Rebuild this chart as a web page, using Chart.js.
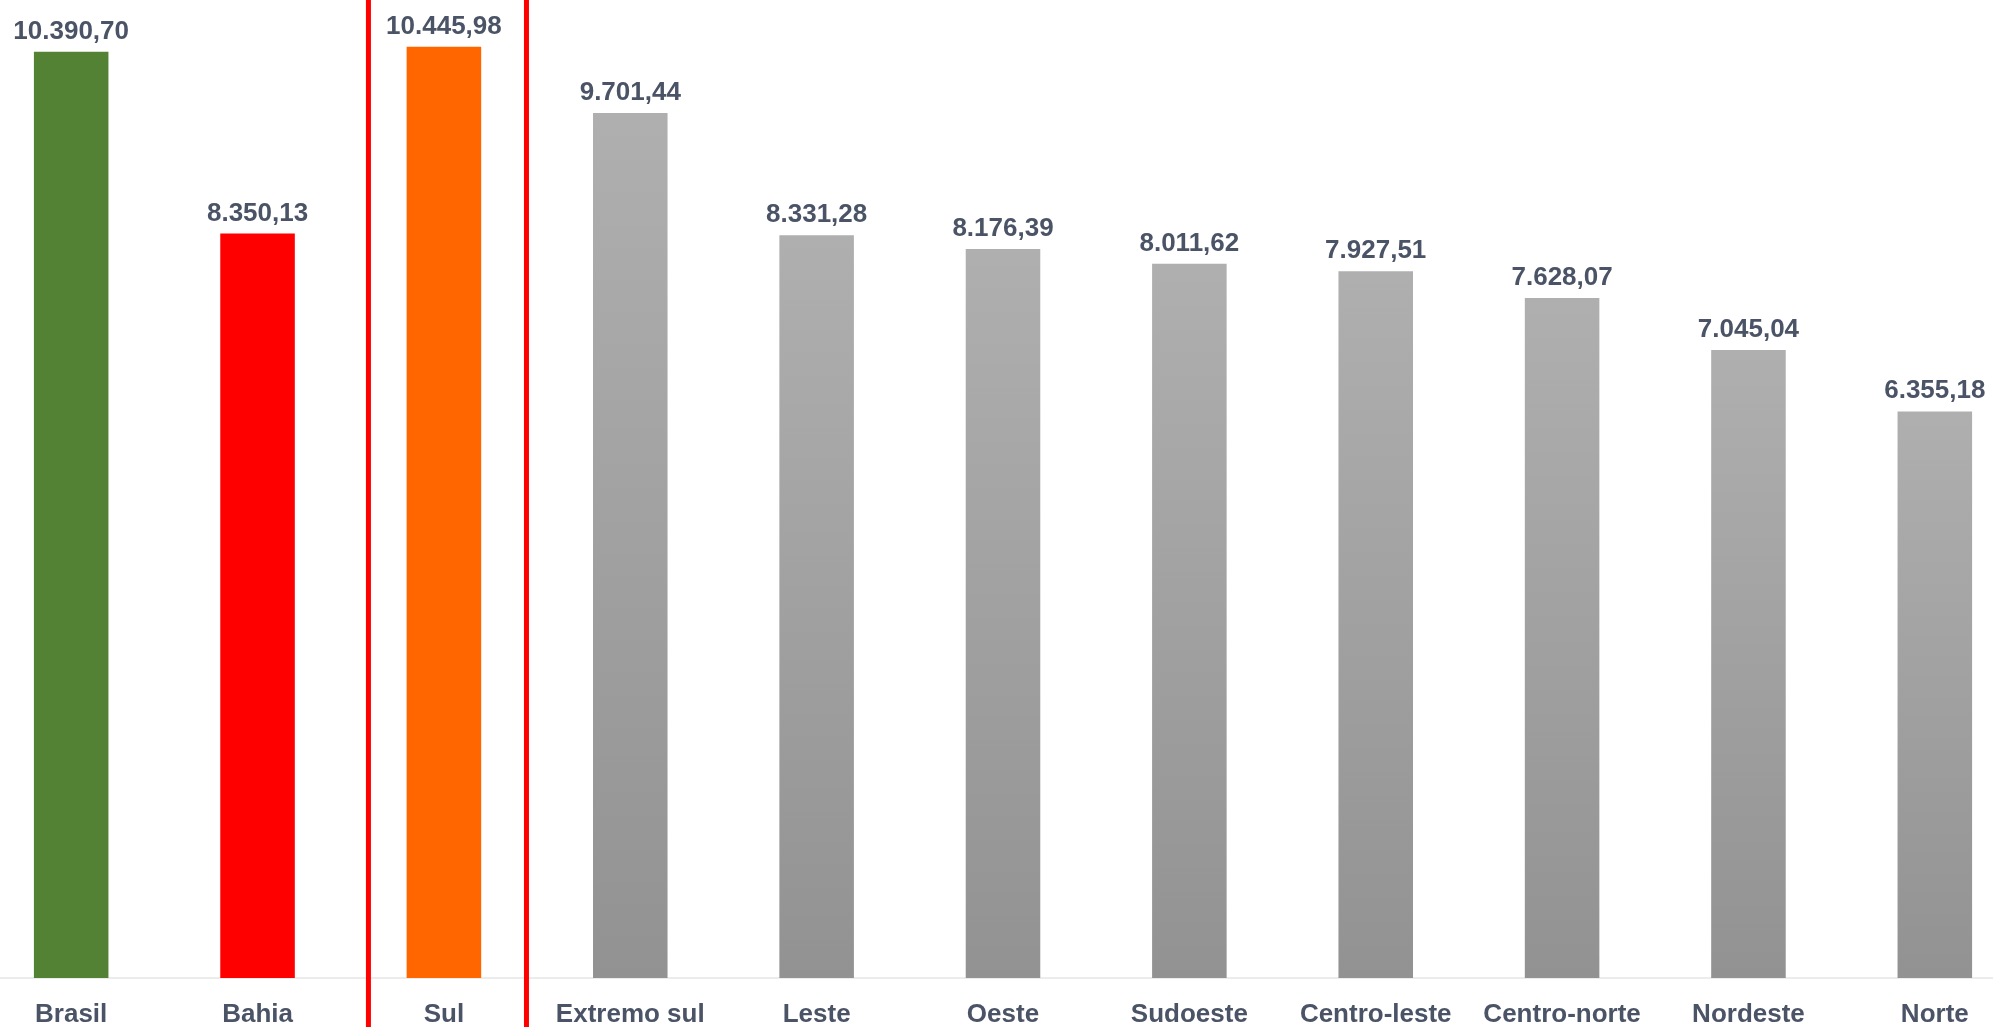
<!DOCTYPE html>
<html lang="pt-BR">
<head>
<meta charset="utf-8">
<title>Regiões</title>
<script src="https://cdn.jsdelivr.net/npm/chart.js@4/dist/chart.umd.min.js"></script>
<style>
  html, body { margin: 0; padding: 0; background: #fff; overflow: hidden; }
  body { width: 1993px; height: 1027px; position: relative; }
  .wrap { position: absolute; left: -22px; top: 0; width: 2050px; height: 1027px; }
</style>
</head>
<body>
<div class="wrap"><canvas id="chart"></canvas></div>
<script>
/**
 * Data
 */
const regions = ['Brasil', 'Bahia', 'Sul', 'Extremo sul', 'Leste', 'Oeste', 'Sudoeste',
  'Centro-leste', 'Centro-norte', 'Nordeste', 'Norte'];
const values = [10390.70, 8350.13, 10445.98, 9701.44, 8331.28, 8176.39, 8011.62,
  7927.51, 7628.07, 7045.04, 6355.18];
const fixedColors = { Brasil: '#548235', Bahia: '#ff0000', Sul: '#ff6600' };
const highlighted = 'Sul';

const textColor = '#4b5466';
const font = 'Liberation Sans, Arial, sans-serif';

// 10.390,70 style
function formatValue(v) {
  const [int, dec] = v.toFixed(2).split('.');
  return int.replace(/\B(?=(\d{3})+(?!\d))/g, '.') + ',' + dec;
}

/**
 * Gray gradient, one per bar
 */
function barColor(context) {
  const name = regions[context.dataIndex];
  if (fixedColors[name]) return fixedColors[name];
  const chart = context.chart;
  if (!chart.chartArea) return '#a0a0a0';
  const y = chart.scales.y;
  const top = y.getPixelForValue(values[context.dataIndex]);
  const bottom = y.getPixelForValue(0);
  const g = chart.ctx.createLinearGradient(0, top, 0, bottom);
  g.addColorStop(0, '#afafaf');
  g.addColorStop(1, '#929292');
  return g;
}

/**
 * Plugins
 */
const valueLabels = {
  id: 'valueLabels',
  afterDatasetsDraw(chart) {
    const ctx = chart.ctx;
    const meta = chart.getDatasetMeta(0);
    ctx.save();
    ctx.font = 'bold 26px ' + font;
    ctx.fillStyle = textColor;
    ctx.textAlign = 'center';
    ctx.textBaseline = 'alphabetic';
    meta.data.forEach((bar, i) => {
      ctx.fillText(formatValue(values[i]), bar.x, bar.y - 13);
    });
    ctx.restore();
  },
};

const highlightBox = {
  id: 'highlightBox',
  afterDraw(chart) {
    const x = chart.scales.x;
    const i = regions.indexOf(highlighted);
    const center = x.getPixelForValue(i);
    const slot = x.getPixelForValue(1) - x.getPixelForValue(0);
    const ctx = chart.ctx;
    ctx.save();
    ctx.strokeStyle = '#ff0000';
    ctx.lineWidth = 5;
    ctx.beginPath();
    ctx.moveTo(center - 0.405 * slot, -5);
    ctx.lineTo(center - 0.405 * slot, chart.height + 5);
    ctx.moveTo(center + 0.443 * slot, -5);
    ctx.lineTo(center + 0.443 * slot, chart.height + 5);
    ctx.stroke();
    ctx.restore();
  },
};

/**
 * Chart
 */
const chart = new Chart(document.getElementById('chart').getContext('2d'), {
  type: 'bar',
  data: {
    labels: regions,
    datasets: [
      {
        data: values,
        backgroundColor: barColor,
        borderWidth: 0,
        barPercentage: 0.4,
        categoryPercentage: 1,
      },
    ],
  },
  options: {
    responsive: true,
    maintainAspectRatio: false,
    animation: false,
    layout: { padding: 0 },
    plugins: {
      legend: { display: false },
      tooltip: { enabled: false },
    },
    scales: {
      y: {
        display: false,
        min: 0,
        max: 10970,
      },
      x: {
        afterFit: (axis) => { axis.height = 49; },
        grid: { display: false, drawTicks: false },
        border: { display: true, color: '#ececec', width: 2 },
        ticks: {
          padding: 21,
          maxRotation: 0,
          autoSkip: false,
          color: textColor,
          font: { family: font, size: 26, weight: 'bold' },
        },
      },
    },
  },
  plugins: [valueLabels, highlightBox],
});
</script>
</body>
</html>
